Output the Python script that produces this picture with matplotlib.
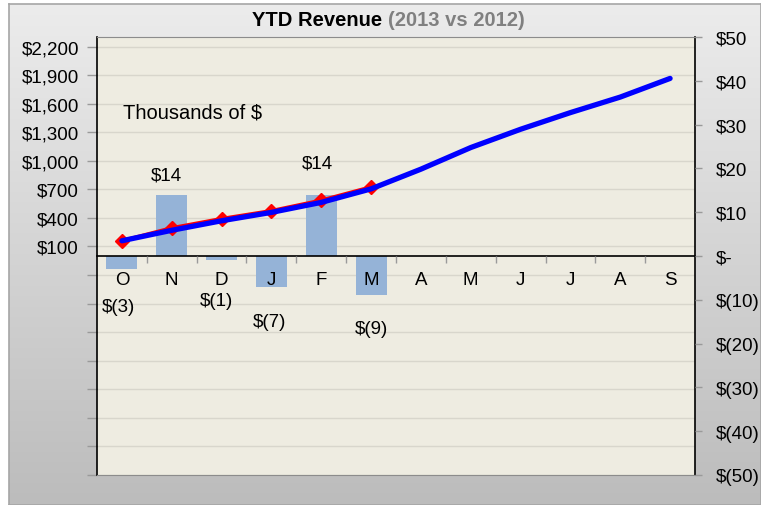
import numpy as np
import matplotlib
matplotlib.use("Agg")
import matplotlib.pyplot as plt
from matplotlib.ticker import FuncFormatter, FixedLocator
from matplotlib.colors import LinearSegmentedColormap

plt.rcParams['font.family'] = ['Liberation Sans', 'DejaVu Sans']

# Months of the fiscal year (Oct - Sep)
months = ["O", "N", "D", "J", "F", "M", "A", "M", "J", "J", "A", "S"]

# Cumulative revenue, thousands of $ (left axis)
ytd_2013 = [160, 295, 392, 475, 585, 725]
ytd_2012 = [160, 270, 370, 458, 563, 705, 912, 1139, 1331, 1506, 1669, 1865]

# Monthly difference 2013 vs 2012, thousands of $ (right axis)
diff = [-3, 14, -1, -7, 14, -9]
diff_labels = ["$(3)", "$14", "$(1)", "$(7)", "$14", "$(9)"]

# Axis ranges / tick steps
left_min, left_max, left_step = -2300, 2300, 300
right_min, right_max, right_step = -50, 50, 10

W, H = 761, 506
fig = plt.figure(figsize=(W / 100, H / 100), dpi=100)
fig.patch.set_facecolor("white")

# Gray gradient chart-area background with thin border
bg = fig.add_axes([9 / W, 0, 1 - 9 / W, 1 - 5 / H], zorder=-10)
grad = np.linspace(0, 1, 256).reshape(-1, 1)
cmap = LinearSegmentedColormap.from_list("bg", ["#ECECEC", "#BCBCBC"])
bg.imshow(grad, aspect="auto", cmap=cmap, extent=[0, 1, 0, 1], origin="upper")
bg.set_xticks([]); bg.set_yticks([])
for s in bg.spines.values():
    s.set_color("#A6A6A6")
    s.set_linewidth(1.2)

# Plot area
x0, x1, y0, y1 = 97, 695, 38, 476
ax = fig.add_axes([x0 / W, 1 - y1 / H, (x1 - x0) / W, (y1 - y0) / H])
ax.set_facecolor("#EEECE1")
ax.set_axisbelow(False)
ax2 = ax.twinx()

x = np.arange(len(months))

# Horizontal gridlines at left-axis ticks (drawn behind bars)
left_ticks = np.arange(left_min, left_max, left_step)
scale = (right_max - right_min) / (left_max - left_min)
for t in left_ticks:
    ax.axhline(t * scale, color="#D8D6CC", lw=1.0, zorder=0)

# Difference bars (right axis)
ax.bar(x[:len(diff)], diff, width=0.62, color="#95B3D7", zorder=2)
ax.set_xlim(-0.5, len(months) - 0.5)
ax.set_ylim(right_min, right_max)

offsets = [(-3, -37), (-5, 20), (-5, -40), (-2, -35), (-4, 32), (0, -33)]
for xi, v, lab, (dx, dy) in zip(x, diff, diff_labels, offsets):
    ax.annotate(lab, (xi, v), xytext=(dx, dy), textcoords="offset pixels",
                ha="center", va="center", fontsize=13.5, color="black", zorder=5)

# Right axis formatting
def right_fmt(v, pos):
    v = int(round(v))
    if v == 0:
        return "$-"
    if v < 0:
        return f"$({-v})"
    return f"${v}"

ax.yaxis.tick_right()
ax.yaxis.set_major_locator(FixedLocator(np.arange(right_min, right_max + 1, right_step)))
ax.yaxis.set_major_formatter(FuncFormatter(right_fmt))
ax.tick_params(axis="y", which="major", length=5, width=1, color="#9A9A9A",
               labelsize=13.5, pad=10, labelcolor="black")

# Category axis at zero
ax.spines["bottom"].set_position(("data", 0))
ax.spines["bottom"].set_color("black")
ax.spines["bottom"].set_linewidth(1.2)
ax.spines["top"].set_visible(False)
ax.spines["left"].set_visible(False)
ax.spines["right"].set_color("black")
ax.spines["right"].set_linewidth(1.2)
ax.set_xticks(x)
ax.set_xticklabels(months)
ax.set_xticks(np.arange(0.5, len(months) - 1, 1), minor=True)
ax.tick_params(axis="x", which="major", length=0, labelsize=13.5, pad=11)
ax.tick_params(axis="x", which="minor", length=5, width=1, color="#9A9A9A", direction="out")

# Cumulative lines (left axis)
ax2.plot(x[:len(ytd_2013)], ytd_2013, color="red", lw=2.6, marker="D",
         markersize=7, markerfacecolor="red", markeredgecolor="red", zorder=3)
ax2.plot(x, ytd_2012, color="#0000FF", lw=3.8, solid_capstyle="round",
         solid_joinstyle="round", zorder=4)
ax2.set_ylim(left_min, left_max)

def left_fmt(v, pos):
    v = int(round(v))
    return f"${v:,}" if v > 0 else ""

ax2.yaxis.tick_left()
ax2.yaxis.set_major_locator(FixedLocator(left_ticks))
ax2.yaxis.set_major_formatter(FuncFormatter(left_fmt))
ax2.tick_params(axis="y", length=7, width=1, color="#9A9A9A",
                labelsize=13.5, pad=6, labelcolor="black")
ax2.spines["left"].set_color("black")
ax2.spines["left"].set_linewidth(1.2)
ax2.spines["right"].set_visible(False)
ax2.spines["top"].set_color("#8C8C8C")
ax2.spines["bottom"].set_color("#8C8C8C")

# Title in two colors
fig.text(382 / W, 1 - 20 / H, "YTD Revenue", ha="right", va="center",
         fontsize=14.5, fontweight="bold", color="black")
fig.text(388 / W, 1 - 20 / H, "(2013 vs 2012)", ha="left", va="center",
         fontsize=14.5, fontweight="bold", color="#808080")

fig.text(123 / W, 1 - 113 / H, "Thousands of $", ha="left", va="center",
         fontsize=14.5, color="black")

fig.savefig("out.png", dpi=100)
